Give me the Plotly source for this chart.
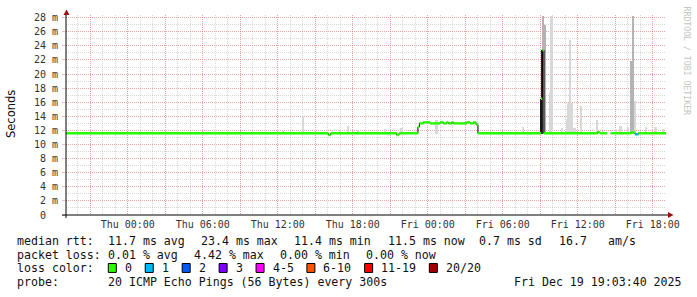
import plotly.graph_objects as go

# ---------------- data ----------------
X_START = "2025-12-17 19:03:40"
X_END = "2025-12-19 19:03:40"
Y_MAX = 28.38

# median RTT (ms): each value holds until the next time
med_time = ["2025-12-17 19:03:40", "2025-12-18 16:03", "2025-12-18 16:14", "2025-12-18 21:31",
            "2025-12-18 21:42", "2025-12-18 23:13", "2025-12-18 23:20", "2025-12-18 23:39",
            "2025-12-19 00:11", "2025-12-19 00:59", "2025-12-19 01:15", "2025-12-19 01:31",
            "2025-12-19 01:39", "2025-12-19 01:55", "2025-12-19 02:03", "2025-12-19 03:07",
            "2025-12-19 03:23", "2025-12-19 03:39", "2025-12-19 03:52", "2025-12-19 04:01",
            "2025-12-19 09:04", "2025-12-19 09:10", "2025-12-19 09:18", "2025-12-19 13:35",
            "2025-12-19 13:47", "2025-12-19 14:22", "2025-12-19 14:38", "2025-12-19 16:16",
            "2025-12-19 16:35", "2025-12-19 16:51"]
med_ms = [11.6, 11.35, 11.6, 11.35,
          11.6, 12.5, 13.0, 13.15,
          13.0, 13.15, 13.0, 13.15,
          13.0, 13.15, 13.0, 13.15,
          13.0, 13.15, 12.85, 11.6,
          16.5, 23.4, 11.6, 11.75,
          11.6, None, 11.6, 11.7,
          11.45, 11.6]
med_loss = [0, 0, 0, 0,
            0, 0, 0, 0,
            0, 0, 0, 0,
            0, 0, 0, 0,
            0, 0, 0, 0,
            0, 0, 0, 0,
            0, 0, 0, 0,
            1, 0]

# smoke (spread of the 20 pings), ms
smoke_light_time = ["2025-12-18 12:25", "2025-12-18 14:03", "2025-12-18 16:59", "2025-12-18 17:37",
                    "2025-12-18 18:25", "2025-12-18 20:35", "2025-12-18 21:55", "2025-12-19 00:43",
                    "2025-12-19 07:37", "2025-12-19 09:48", "2025-12-19 09:55", "2025-12-19 10:44",
                    "2025-12-19 11:08", "2025-12-19 11:16", "2025-12-19 11:24", "2025-12-19 11:35",
                    "2025-12-19 11:45", "2025-12-19 12:16", "2025-12-19 13:35", "2025-12-19 15:04",
                    "2025-12-19 15:26", "2025-12-19 16:01", "2025-12-19 16:37", "2025-12-19 17:28",
                    "2025-12-19 18:14", "2025-12-19 18:49"]
smoke_light_lo = [11.5] * 26
smoke_light_hi = [12.0, 14.1, 12.0, 12.7,
                  12.1, 12.2, 12.4, 13.5,
                  12.5, 17.4, 28.2, 12.3,
                  13.6, 15.9, 24.9, 15.9,
                  12.3, 15.4, 13.5, 12.2,
                  12.7, 12.5, 16.2, 12.5,
                  12.5, 12.2]
smoke_mid_time = ["2025-12-19 09:13", "2025-12-19 09:23", "2025-12-19 16:16", "2025-12-19 16:27"]
smoke_mid_lo = [11.5, 11.5, 11.5, 11.5]
smoke_mid_hi = [28.2, 27.0, 21.8, 28.2]
smoke_dark_time = ["2025-12-19 09:04", "2025-12-19 09:09"]
smoke_dark_lo = [11.5, 11.5]
smoke_dark_hi = [16.5, 23.4]

y_tick_vals = list(range(0, 30, 2))
y_tick_text = ["0\u00a0\u00a0"] + [f"{v} m" for v in range(2, 30, 2)]

x_tick_vals = ["2025-12-17 21:00", "2025-12-18 00:00", "2025-12-18 03:00", "2025-12-18 06:00",
               "2025-12-18 09:00", "2025-12-18 12:00", "2025-12-18 15:00", "2025-12-18 18:00",
               "2025-12-18 21:00", "2025-12-19 00:00", "2025-12-19 03:00", "2025-12-19 06:00",
               "2025-12-19 09:00", "2025-12-19 12:00", "2025-12-19 15:00", "2025-12-19 18:00"]
x_tick_text = ["", "Thu 00:00", "", "Thu 06:00", "", "Thu 12:00", "", "Thu 18:00",
               "", "Fri 00:00", "", "Fri 06:00", "", "Fri 12:00", "", "Fri 18:00"]

loss_labels = ["0", "1", "2", "3", "4-5", "6-10", "11-19", "20/20"]
loss_colors = ["#26ff00", "#00b8ff", "#0059ff", "#7e00ff", "#ff00ff", "#ff5500", "#ff0000", "#a10000"]

rtt_text = ["median rtt:", "11.7 ms avg", "23.4 ms max", "11.4 ms min", "11.5 ms now",
            "0.7 ms sd", "16.7", "am/s"]
loss_text = ["packet loss:", "0.01 % avg", "4.42 % max", "0.00 % min", "0.00 % now"]
probe_text = ["probe:", "20 ICMP Echo Pings (56 Bytes) every 300s", "Fri Dec 19 19:03:40 2025"]

# ---------------- layout constants ----------------
W, H = 697, 297
L, R, T, B = 66, 31, 13, 82
PW, PH = W - L - R, H - T - B
MONO = "DejaVu Sans Mono"
STEP_MS = 288000  # one pixel of time

rtt_x = [16, 107.3, 200, 293.3, 386.7, 478.3, 558.3, 606.7]
loss_x = [16, 107.3, 192.7, 279, 365]
probe_x = [16, 107.3, 513.3]
row_y = [241, 255, 268.5, 282.5]


def px(x):
    return (x - L) / PW


def py(y):
    return (T + PH - y) / PH


fig = go.Figure()

# smoke
for tt, lo, hi, col, wpx in [(smoke_light_time, smoke_light_lo, smoke_light_hi, "#d8d8d8", 1.8),
                             (smoke_mid_time, smoke_mid_lo, smoke_mid_hi, "#b4b4b4", 1.3),
                             (smoke_dark_time, smoke_dark_lo, smoke_dark_hi, "#2a2a2a", 1.2)]:
    fig.add_trace(go.Bar(x=tt, y=[h - l for h, l in zip(hi, lo)], base=lo, width=STEP_MS * wpx,
                         marker=dict(color=col, line=dict(width=0)), hoverinfo="skip"))

# median (black connecting line)
fig.add_trace(go.Scatter(x=med_time + [X_END], y=med_ms + [med_ms[-1]], mode="lines",
                         line=dict(color="#000000", width=1, shape="hv"), hoverinfo="skip"))

# median coloured by loss (horizontal pieces only)
seg_end = med_time[1:] + [X_END]
for k, col in enumerate(loss_colors):
    xs, ys = [], []
    for t0, t1, v, ls in zip(med_time, seg_end, med_ms, med_loss):
        if v is None or ls != k:
            continue
        xs += [t0, t1, None]
        ys += [v, v, None]
    if xs:
        fig.add_trace(go.Scatter(x=xs, y=ys, mode="lines", line=dict(color=col, width=2.4),
                                 hoverinfo="skip"))

MAJOR = "rgba(255,95,95,0.42)"
MINOR = "rgba(150,150,150,0.38)"

fig.update_layout(
    width=W, height=H, margin=dict(l=L, r=R, t=T, b=B, pad=0),
    paper_bgcolor="white", plot_bgcolor="white", showlegend=False,
    barmode="overlay", bargap=0,
    xaxis=dict(type="date", range=[X_START, X_END], tickvals=x_tick_vals, ticktext=x_tick_text,
               showgrid=True, gridcolor=MAJOR, gridwidth=1, griddash="1px,1px",
               minor=dict(dtick=3600000, tick0="2025-12-17 00:00", showgrid=True,
                          gridcolor=MINOR, gridwidth=1, griddash="1px,1px"),
               ticks="", showline=False, zeroline=False, tickangle=0,
               tickfont=dict(family=MONO, size=10, color="#333333"), ticklabelstandoff=2),
    yaxis=dict(range=[0, Y_MAX], tickvals=y_tick_vals, ticktext=y_tick_text,
               showgrid=True, gridcolor=MAJOR, gridwidth=1, griddash="1px,1px",
               minor=dict(dtick=1, tick0=0, showgrid=True, gridcolor=MINOR, gridwidth=1,
                          griddash="1px,1px"),
               ticks="outside", ticklen=3, tickcolor=MAJOR, showline=False, zeroline=False,
               tickfont=dict(family=MONO, size=10, color="#333333"), ticklabelstandoff=2),
)

shapes = []
# axes
shapes.append(dict(type="line", xref="paper", yref="paper", x0=px(62), x1=px(669), y0=py(215), y1=py(215),
                   line=dict(color="#000000", width=1)))
shapes.append(dict(type="line", xref="paper", yref="paper", x0=px(66), x1=px(66), y0=py(218), y1=py(11),
                   line=dict(color="#000000", width=1)))
# arrows
shapes.append(dict(type="path", xref="paper", yref="paper",
                   path=f"M {px(63.5)} {py(13)} L {px(69.5)} {py(13)} L {px(66.5)} {py(7.5)} Z",
                   fillcolor="#9a1010", line=dict(width=0)))
shapes.append(dict(type="path", xref="paper", yref="paper",
                   path=f"M {px(668)} {py(212)} L {px(668)} {py(218)} L {px(673.5)} {py(215)} Z",
                   fillcolor="#9a1010", line=dict(width=0)))

ann = []


def txt(x, y, s, size=11.6, color="#111111", family=MONO, **kw):
    ann.append(dict(x=px(x), y=py(y), xref="paper", yref="paper", text=s.replace(" ", "\u00a0"),
                    showarrow=False, xanchor="left", yanchor="middle", borderpad=0,
                    font=dict(family=family, size=size, color=color), **kw))


for s, x in zip(rtt_text, rtt_x):
    txt(x, row_y[0], s)
for s, x in zip(loss_text, loss_x):
    txt(x, row_y[1], s)
for s, x in zip(probe_text, probe_x):
    txt(x, row_y[3], s)

# loss colour legend
txt(16, row_y[2], "loss color:")
bx = 108.3
for lab, col in zip(loss_labels, loss_colors):
    shapes.append(dict(type="rect", xref="paper", yref="paper", x0=px(bx), x1=px(bx + 8),
                       y0=py(row_y[2] + 4.5), y1=py(row_y[2] - 4.5), fillcolor=col,
                       line=dict(color="#000000", width=1)))
    txt(bx + 15.5, row_y[2], lab)
    bx = bx + 15.5 + len(lab) * 6.94 + 14.5

# y axis title
ann.append(dict(x=px(11), y=py(113), xref="paper", yref="paper", text="Seconds", showarrow=False,
                textangle=-90, xanchor="center", yanchor="middle",
                font=dict(family="DejaVu Sans", size=11.5, color="#111111")))
# rrdtool watermark
ann.append(dict(x=px(687), y=py(59), xref="paper", yref="paper", text="RRDTOOL / TOBI OETIKER",
                showarrow=False, textangle=90, xanchor="center", yanchor="middle",
                font=dict(family=MONO, size=8.2, color="#c4c4c4")))

fig.update_layout(shapes=shapes, annotations=ann)
fig.write_html("out.html")
